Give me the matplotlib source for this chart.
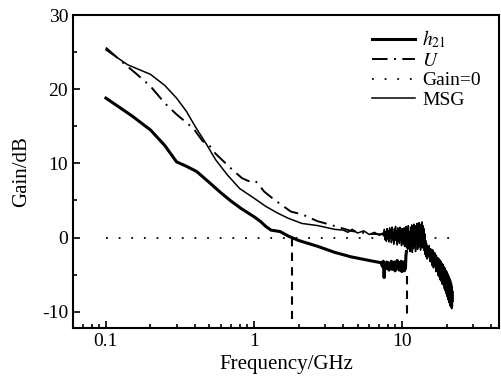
import matplotlib
matplotlib.use('Agg')
import matplotlib.pyplot as plt
from matplotlib.ticker import MultipleLocator, LogLocator, NullFormatter

plt.rcParams['font.family'] = ['Liberation Serif', 'DejaVu Serif']
plt.rcParams['mathtext.fontset'] = 'stix'
plt.rcParams['axes.unicode_minus'] = False

# h21 (thick solid)
h21_f = [0.1, 0.15, 0.2, 0.25, 0.3, 0.35, 0.41, 0.5, 0.6, 0.7, 0.82, 1.0, 1.1, 1.2, 1.3,
         1.5, 1.7, 2.0, 2.7, 3.5, 4.5, 6.0, 7.2,
         7.35, 7.45, 7.55, 7.65, 7.75, 7.85, 7.95, 8.05, 8.15, 8.25, 8.35, 8.45, 8.55, 8.65,
         8.75, 8.85, 8.95, 9.05, 9.15, 9.25, 9.35, 9.45, 9.55, 9.65, 9.75, 9.85, 9.95, 10.05,
         10.15, 10.25, 10.35, 10.45, 10.52, 10.6, 10.68]
h21_g = [18.8, 16.4, 14.5, 12.4, 10.2, 9.6, 8.9, 7.4, 6.0, 4.9, 3.9, 2.8, 2.2, 1.5, 1.0,
         0.8, 0.2, -0.4, -1.2, -2.0, -2.6, -3.1, -3.4,
         -3.9, -3.2, -5.4, -3.5, -4.2, -3.3, -4.0, -3.4, -4.4, -3.6, -3.9, -3.2, -4.3, -3.5,
         -4.1, -3.3, -4.5, -3.6, -3.9, -3.1, -4.2, -3.5, -4.4, -3.4, -4.0, -3.2, -4.6, -3.6,
         -4.1, -3.3, -4.5, -3.6, -4.2, -2.4, -1.9]

# U (dash-dot)
u_f = [0.1, 0.13, 0.16, 0.2, 0.25, 0.3, 0.39, 0.45, 0.5, 0.55, 0.7, 0.83, 0.92, 1.0,
       1.05, 1.17, 1.33, 1.77, 2.12, 2.68, 3.3, 4.5, 6.0, 8.0]
u_g = [25.6, 23.6, 22.1, 20.4, 18.1, 16.6, 14.7, 13.0, 12.4, 11.3, 9.3, 8.0, 7.6, 7.7,
       7.4, 6.2, 5.3, 3.5, 3.1, 2.2, 1.7, 0.9, 0.5, 0.4]

# Gain = 0 reference
zero_f = [0.1, 24]
zero_g = [0, 0]

# MSG (thin solid)
msg_f = [0.1, 0.14, 0.2, 0.25, 0.3, 0.35, 0.4, 0.48, 0.55, 0.66, 0.8, 1.0, 1.2, 1.44, 1.7,
         2.1, 2.7, 3.5, 4.0, 4.3, 4.6, 5.0, 5.5, 6.0, 6.5, 7.0, 7.4,
         7.5, 7.58, 7.66, 7.74, 7.82, 7.9, 7.98, 8.06, 8.14, 8.22, 8.3, 8.38, 8.46, 8.54,
         8.62, 8.7, 8.78, 8.86, 8.94, 9.02, 9.1, 9.18, 9.26, 9.34, 9.42, 9.5, 9.58, 9.66,
         9.74, 9.82, 9.9, 9.98, 10.06, 10.14, 10.22, 10.3, 10.38, 10.46, 10.54, 10.62, 10.7,
         10.8, 10.9, 11.0, 11.1, 11.2, 11.3, 11.4, 11.5, 11.6, 11.7, 11.8, 11.9, 12.0, 12.1,
         12.2, 12.3, 12.4, 12.5, 12.6, 12.7, 12.8, 12.9, 13.0, 13.1, 13.2, 13.3, 13.4, 13.5,
         13.6, 13.7, 13.8, 13.9, 14.0, 14.1, 14.2, 14.3, 14.4, 14.5,
         14.6, 14.75, 14.9, 15.05, 15.2, 15.35, 15.5, 15.65, 15.8, 15.95, 16.1, 16.25, 16.4,
         16.55, 16.7, 16.85, 17.0, 17.15, 17.3, 17.45, 17.6, 17.75, 17.9, 18.05, 18.2, 18.35,
         18.5, 18.65, 18.8, 18.95, 19.1, 19.25, 19.4, 19.55, 19.7, 19.85, 20.0, 20.15, 20.3,
         20.45, 20.6, 20.75, 20.9, 21.05, 21.2, 21.35, 21.5, 21.6, 21.7, 21.8, 21.9, 22.0]
msg_g = [25.3, 23.3, 22.0, 20.5, 18.8, 17.0, 15.0, 12.5, 10.5, 8.45, 6.6, 5.3, 4.2, 3.3, 2.6,
         1.9, 1.6, 1.1, 1.0, 0.7, 1.1, 0.6, 0.9, 0.4, 0.7, 0.3, 0.6,
         0.2, 1.1, -0.3, 0.8, -0.5, 1.2, -0.2, 0.9, -0.6, 1.3, -0.1, 1.0, -0.7, 1.4,
         -0.3, 0.8, -0.9, 1.2, -0.4, 1.5, -0.2, 0.9, -1.0, 1.3, -0.5, 1.1, -0.8, 1.4,
         -0.3, 0.7, -1.1, 1.2, -0.6, 1.0, -0.9, 1.3, -1.2, 0.9, -0.7, 1.5, -1.4,
         1.2, -1.6, 1.6, -1.3, 0.8, -1.9, 1.4, -1.1, 1.7, -2.0, 0.9, -1.5, 1.8, -1.2,
         1.3, -1.9, 1.6, -0.9, 1.9, -1.6, 1.1, -1.3, 2.0, -0.8, 1.5, -1.7, 1.8, -1.0,
         2.1, -1.4, 1.6, -0.9, 1.2, -1.8, 0.5, -2.3, -0.4, -2.6,
         -0.8, -2.9, -1.2, -2.6, -1.1, -3.2, -1.5, -3.3, -1.6, -3.8, -1.7, -4.1, -2.0,
         -3.9, -2.1, -4.6, -2.4, -4.5, -2.7, -5.1, -2.8, -5.3, -3.0, -5.7, -3.2, -5.9,
         -3.5, -6.3, -3.6, -6.4, -3.9, -6.9, -4.1, -7.2, -4.4, -7.6, -4.6, -8.0, -4.9,
         -8.4, -5.2, -8.8, -5.5, -9.2, -5.8, -9.4, -6.2, -9.6, -6.6, -9.3, -7.2, -8.6]

# vertical marker lines
vline_f = [1.81, 10.7]
vline_top = [0, -5.2]
vline_bottom = [-11, -11]

fig = plt.figure(figsize=(5.02, 3.79), dpi=100)
ax = fig.add_axes([0.1454, 0.1346, 0.8486, 0.8258])

ax.plot(h21_f, h21_g, color='black', linewidth=2.2, label=r'$h_{21}$')
ax.plot(u_f, u_g, color='black', linewidth=1.4, linestyle=(0, (8, 3.3, 1, 3.3)), label=r'$U$')
ax.plot(zero_f, zero_g, color='black', linewidth=1.3, linestyle=(0, (1, 6)), label='Gain=0')
ax.plot(msg_f, msg_g, color='black', linewidth=1.1, label='MSG')

for f, top, bot in zip(vline_f, vline_top, vline_bottom):
    ax.plot([f, f], [top, bot], color='black', linewidth=1.5, linestyle=(0, (4, 3)))

ax.set_xscale('log')
ax.set_xlim(0.06, 45)
ax.set_ylim(-12.2, 30)
ax.set_xticks([0.1, 1, 10])
ax.set_xticklabels(['0.1', '1', '10'])
ax.xaxis.set_minor_locator(LogLocator(base=10, subs=range(2, 10)))
ax.xaxis.set_minor_formatter(NullFormatter())
ax.set_yticks([-10, 0, 10, 20, 30])
ax.yaxis.set_minor_locator(MultipleLocator(5))

ax.tick_params(which='both', direction='in', top=False, right=False, labelsize=14, width=1.2)
ax.tick_params(which='major', length=5)
ax.tick_params(which='minor', length=3)
for s in ax.spines.values():
    s.set_linewidth(1.5)

ax.set_xlabel('Frequency/GHz', fontsize=15, labelpad=4)
ax.set_ylabel('Gain/dB', fontsize=15, labelpad=8)

ax.legend(loc='upper right', frameon=False, fontsize=14, handlelength=2.2,
          labelspacing=0.1, handletextpad=0.4, borderaxespad=0.3,
          bbox_to_anchor=(0.99, 1.0))

fig.savefig('out.png', dpi=100)
